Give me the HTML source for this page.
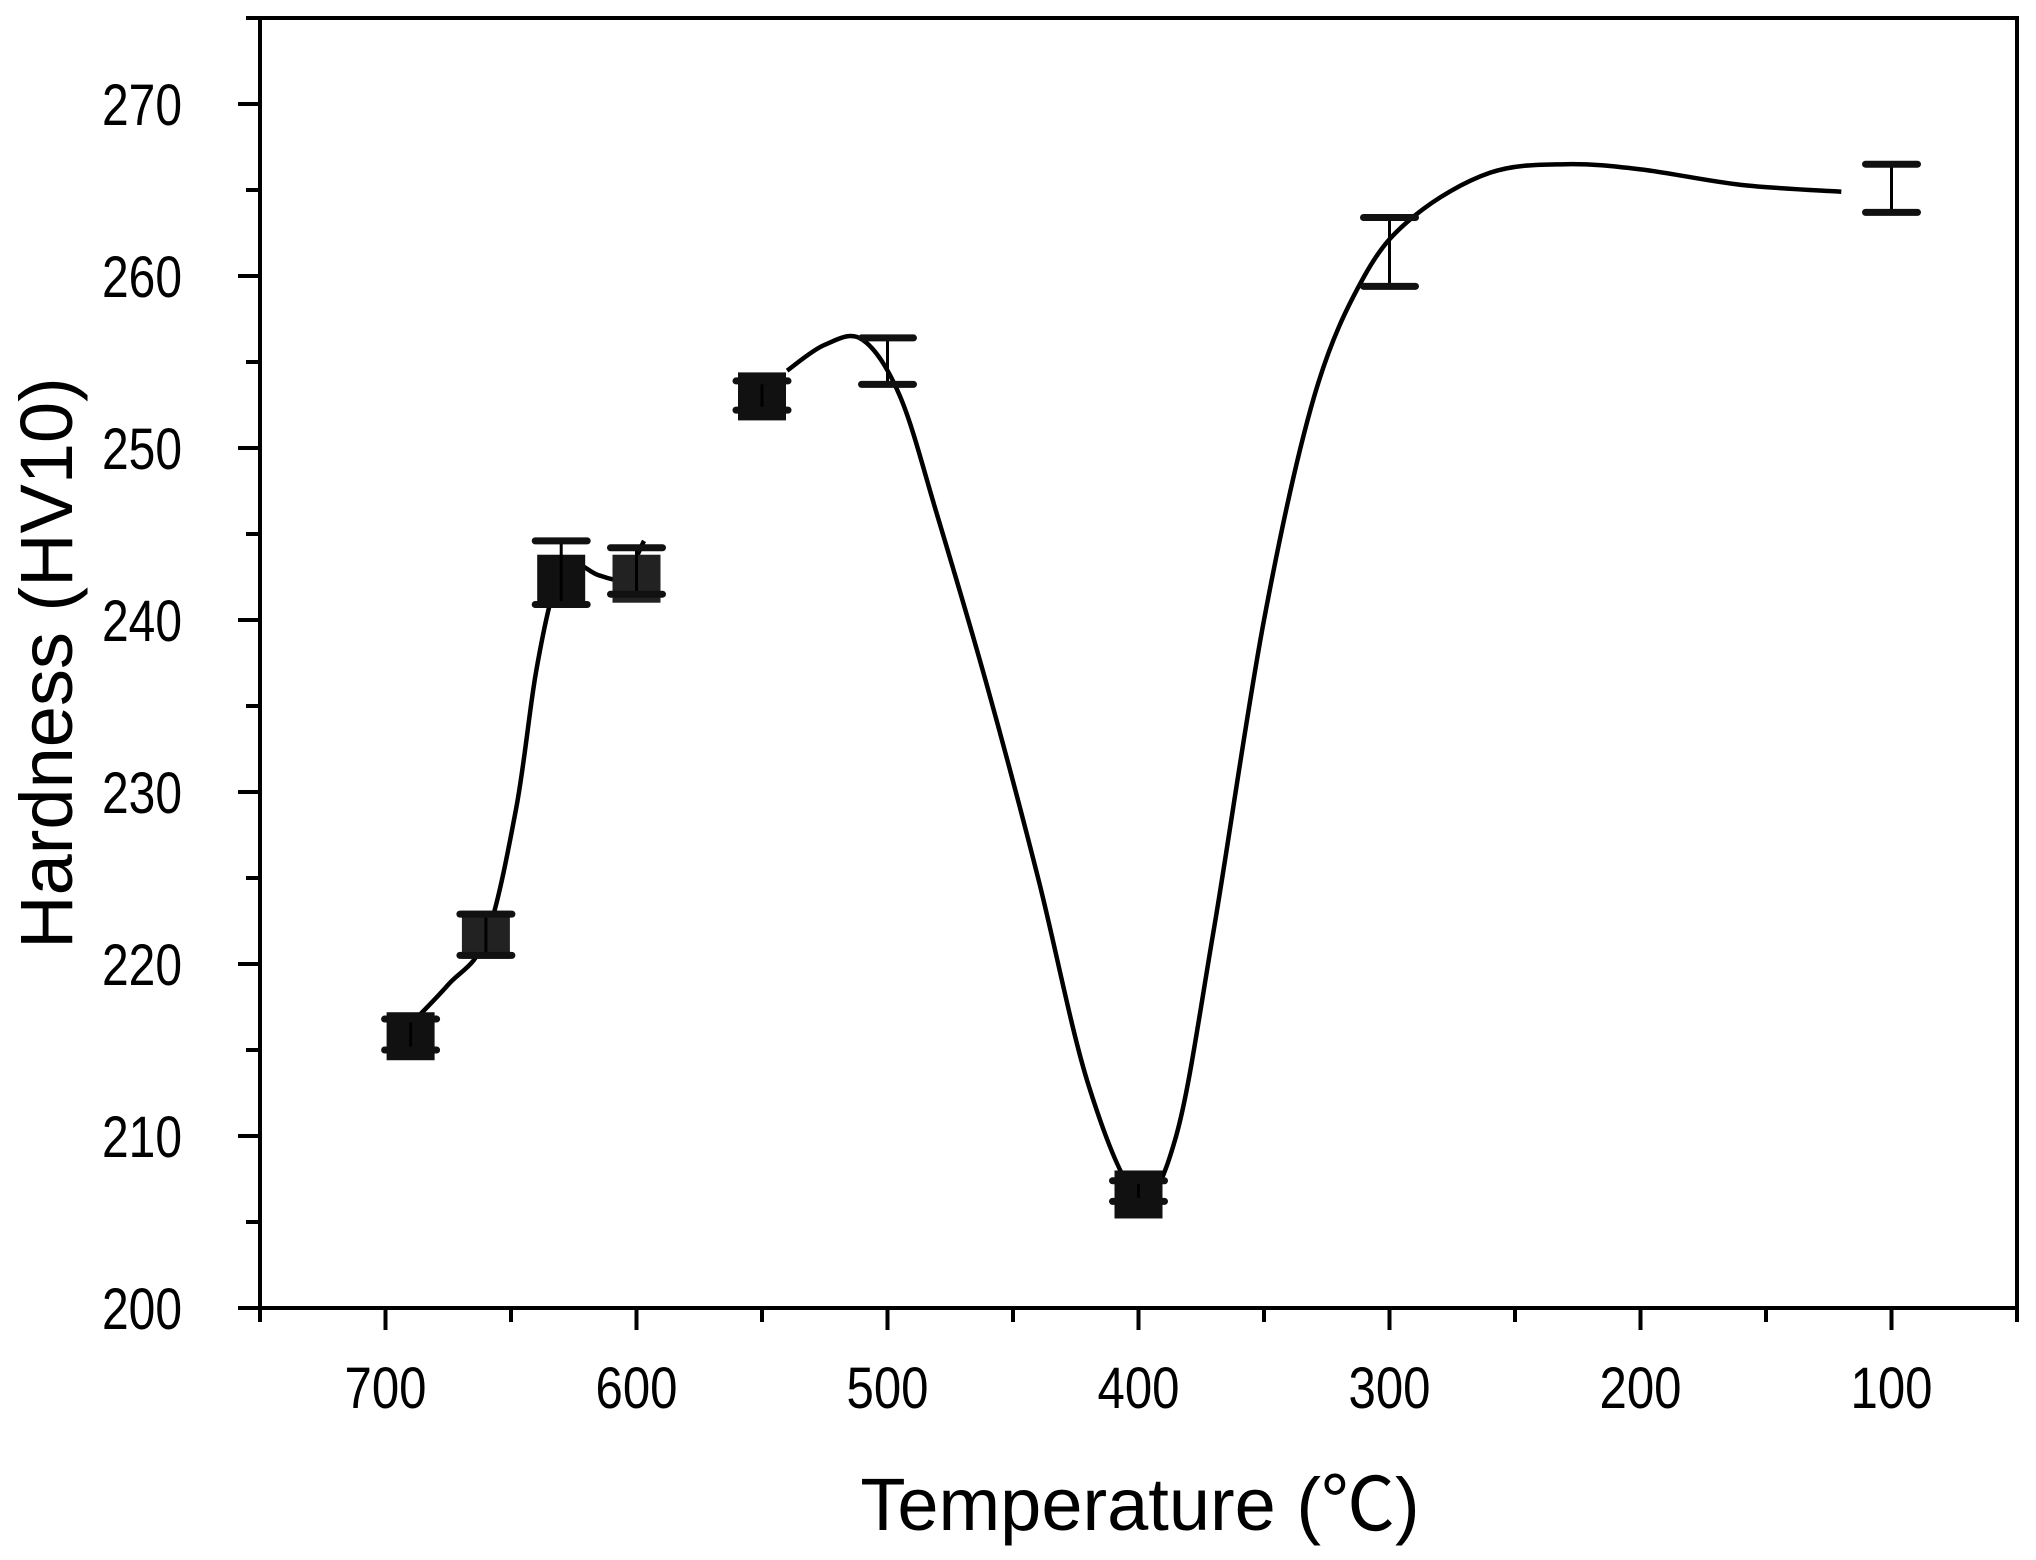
<!DOCTYPE html>
<html><head><meta charset="utf-8"><style>
html,body{margin:0;padding:0;background:#fff;}
svg{display:block;font-family:"Liberation Sans",Arial,sans-serif;}
</style></head><body>
<svg id="chart" width="2036" height="1560" viewBox="0 0 2036 1560" xmlns="http://www.w3.org/2000/svg">
<g id="axes"></g><g id="curve"></g><g id="marks"></g>
<text x="1140" y="1530" font-size="74" text-anchor="middle">Temperature (<tspan font-family="'Noto Sans CJK SC',sans-serif">℃</tspan>)</text>
<text transform="translate(72,663) rotate(-90)" font-size="74" text-anchor="middle">Hardness (HV10)</text>
</svg>
<script>
const temps=[690,660,630,600,550,500,400,300,100];
const hardness=[215.8,221.7,242.4,242.4,253,255,206.6,261.3,265];
const errLow=[215,220.5,240.9,241.5,252.2,253.7,206.2,259.4,263.7];
const errHigh=[216.8,222.9,244.6,244.2,253.9,256.4,207.4,263.4,266.5];
const showMarker=[1,1,1,1,1,0,1,0,0];
const curve1T=[690,675,660,648,640,632,625,615,605,597];
const curve1H=[216.5,218.8,221.5,229,237,242.2,243.3,242.6,242.5,244.6];
const curve2T=[540,525,510,495,480,460,440,420,400,385,370,350,330,310,290,260,230,200,160,120];
const curve2H=[254.5,256,256.3,253,246,236,225,213,206.5,210,222,240,253,260,263.5,266,266.5,266.2,265.3,264.9];
const xTicks=[700,600,500,400,300,200,100];
const yTicks=[200,210,220,230,240,250,260,270];
const L=260,R=2017,T=18,B=1308;
const X=t=>L+(750-t)/(750-50)*(R-L);
const Y=h=>B-(h-200)/(275-200)*(B-T);
const NS='http://www.w3.org/2000/svg';
function mk(tag,attrs,parent){const e=document.createElementNS(NS,tag);for(const k in attrs)e.setAttribute(k,attrs[k]);parent.appendChild(e);return e;}
const ax=document.getElementById('axes');
const frame=mk('rect',{x:L,y:T,width:R-L,height:B-T,fill:'none',stroke:'#000','stroke-width':4},ax);


for(let t=750;t>=50;t-=50){
  const major=t%100===0;
  const tk=mk('line',{x1:X(t),x2:X(t),y1:B,y2:B+(major?22:14),stroke:'#000','stroke-width':4},ax);
  
  
}
xTicks.forEach(t=>{const tx=mk('text',{x:X(t),y:B+100,'font-size':58,'text-anchor':'middle',textLength:82,lengthAdjust:'spacingAndGlyphs'},ax);tx.textContent=t;
  
  });
for(let h=200;h<=275;h+=5){
  const major=h%10===0;
  const tk=mk('line',{x1:L,x2:L-(major?22:14),y1:Y(h),y2:Y(h),stroke:'#000','stroke-width':4},ax);
  
  
}
yTicks.forEach(h=>{const tx=mk('text',{x:L-78,y:Y(h)+21,'font-size':58,'text-anchor':'end',textLength:80,lengthAdjust:'spacingAndGlyphs'},ax);tx.textContent=h;
  
  });
function spline(ts,hs){
  const p=ts.map((t,i)=>[X(t),Y(hs[i])]);
  let d='M'+p[0][0]+','+p[0][1];
  for(let i=0;i<p.length-1;i++){
    const p0=p[i-1]||p[i],p1=p[i],p2=p[i+1],p3=p[i+2]||p[i+1];
    d+=` C${p1[0]+(p2[0]-p0[0])/6},${p1[1]+(p2[1]-p0[1])/6} ${p2[0]-(p3[0]-p1[0])/6},${p2[1]-(p3[1]-p1[1])/6} ${p2[0]},${p2[1]}`;
  }
  return d;
}
const cg=document.getElementById('curve');
const c1=mk('path',{d:spline(curve1T,curve1H),fill:'none',stroke:'#000','stroke-width':4.5},cg);


const c2=mk('path',{d:spline(curve2T,curve2H),fill:'none',stroke:'#000','stroke-width':4.5},cg);


const mg=document.getElementById('marks');
temps.forEach((t,i)=>{
  const x=X(t);
  if(showMarker[i]){
    const r=mk('rect',{x:x-24,y:Y(hardness[i])-24,width:48,height:48,fill:i%2?'#222':'#111'},mg);
    
    
  }
  const v=mk('line',{x1:x,x2:x,y1:Y(errLow[i]),y2:Y(errHigh[i]),stroke:'#000','stroke-width':3},mg);
  
  
  [errLow[i],errHigh[i]].forEach(e=>{
    const c=mk('line',{x1:x-26,x2:x+26,y1:Y(e),y2:Y(e),stroke:'#111','stroke-width':7,'stroke-linecap':'round'},mg);
    
    
  });
});
</script>
</body></html>
